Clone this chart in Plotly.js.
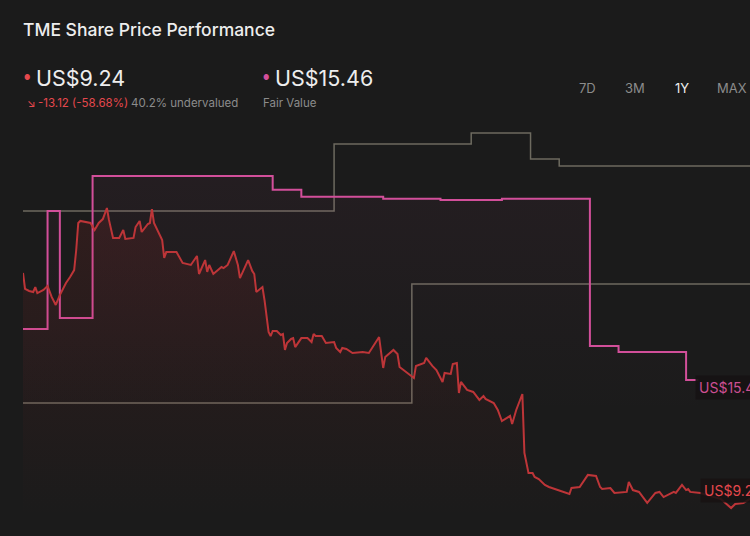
<!DOCTYPE html>
<html>
<head>
<meta charset="utf-8">
<script src="https://cdn.plot.ly/plotly-3.0.1.min.js"></script>
<style>
  html, body { margin: 0; padding: 0; background: #1b1b1b; overflow: hidden; width: 750px; height: 536px; }
  #chart { width: 820px; height: 536px; }
</style>
</head>
<body>
<div id="chart"></div>
<script>
// ---- Data (day index within the 1Y window, values in US$) ----
const priceDays = [0,1,3,5,6,7,10,12,14,16,18,21,23,25,26,27,28,30,33,35,37,39,41,42,44,47,49,50,54,55,57,58,61,62,63,64,68,69,70,75,78,82,85,86,89,90,91,93,97,98,100,103,105,106,110,112,113,114,117,118,120,121,122,124,126,127,128,129,131,132,133,136,139,141,142,143,146,148,152,153,155,156,158,161,166,169,174,176,177,181,183,184,189,191,192,196,197,200,202,205,206,209,210,212,213,214,217,220,223,225,226,230,232,234,238,239,241,244,245,247,249,250,252,255,257,261,267,268,272,276,280,282,283,287,289,295,296,298,301,305,309,311,313,318,319,322,324,325,326,331,341,346,348,352,355,364];
const priceValues = [22.36,21.42,21.30,21.24,21.53,21.18,21.36,21.59,20.95,20.48,21.06,21.77,22.12,22.53,23.71,25.30,25.42,25.36,25.30,24.89,25.30,25.53,26.18,25.48,24.42,24.42,24.89,24.36,24.42,25.06,25.42,24.77,25.24,25.30,26.12,25.30,24.30,23.24,23.59,23.59,22.95,22.83,23.36,22.30,23.12,22.42,22.83,22.30,22.71,22.65,22.83,23.65,22.83,22.06,23.12,22.48,22.30,21.24,21.53,20.77,18.89,18.65,18.95,18.95,18.71,18.77,17.83,18.24,18.48,18.53,18.00,18.53,18.53,18.30,18.77,18.65,18.65,18.24,18.30,17.95,17.71,17.95,17.89,17.65,17.71,17.65,18.59,16.77,17.42,17.83,17.59,16.83,16.36,16.18,16.89,17.06,17.36,16.89,16.65,15.95,16.48,16.42,17.00,17.06,15.30,15.95,15.48,15.36,14.89,15.12,14.95,14.71,14.30,13.65,13.95,13.48,14.30,15.24,11.77,10.59,10.59,10.36,10.24,9.89,9.77,9.59,9.36,9.71,9.77,10.48,10.42,9.77,9.65,9.71,9.42,9.48,10.06,9.59,9.48,8.83,9.42,9.48,9.18,9.48,9.42,9.89,9.59,9.65,9.48,9.42,9.06,8.53,8.77,8.83,9.06,9.24];

const fairDays = [0,12,18,34,122,136,176,204,234,277,291,324,330];
const fairValues = [19.06,26.00,19.71,28.06,27.26,26.85,26.73,26.65,26.73,18.06,17.71,16.06,16.06];

const targetHighDays = [0,152,219,248,262,365];
const targetHighValues = [26.00,29.95,30.59,29.06,28.65,28.65];
const targetLowDays = [0,190,365];
const targetLowValues = [14.71,21.71,21.71];

const ticker = "TME";
const lastPrice = "US$9.24";
const change = "-13.12 (-58.68%)";
const valuation = "40.2% undervalued";
const fairValue = "US$15.46";
const rangeButtons = ["7D", "3M", "1Y", "MAX"];

// ---- Layout helpers (pixel -> paper) ----
const ML = 23, MR = 50, MT = 110, MB = 0, W = 820, H = 536;
const PW = W - ML - MR, PH = H - MT - MB;
const px = v => (v - ML) / PW;
const py = v => (H - MB - v) / PH;

const RED = '#e5484d', PINK = '#d24f9a', GREY = '#8c8c8c', WHITE = '#ededed';
const FONT = 'Inter, Roboto, "Noto Sans", sans-serif';

const traces = [
  {
    x: targetHighDays, y: targetHighValues, type: 'scatter', mode: 'lines',
    line: { color: '#6d6a5f', width: 1.5, shape: 'hv' }, hoverinfo: 'skip'
  },
  {
    x: targetLowDays, y: targetLowValues, type: 'scatter', mode: 'lines',
    line: { color: '#6d6a5f', width: 1.5, shape: 'hv' }, hoverinfo: 'skip'
  },
  {
    x: fairDays, y: fairValues, type: 'scatter', mode: 'lines',
    line: { color: PINK, width: 2, shape: 'hv' },
    fill: 'tozeroy',
    fillgradient: { type: 'vertical', start: 14, stop: 28,
      colorscale: [[0, 'rgba(210,80,150,0)'], [1, 'rgba(210,80,150,0.05)']] },
    hoverinfo: 'skip'
  },
  {
    x: priceDays, y: priceValues, type: 'scatter', mode: 'lines',
    line: { color: '#bd3538', width: 2 },
    fill: 'tozeroy',
    fillgradient: { type: 'vertical', start: 8, stop: 26,
      colorscale: [[0, 'rgba(180,40,40,0)'], [1, 'rgba(180,40,40,0.14)']] },
    hoverinfo: 'skip'
  }
];

function ann(text, x, y, size, color, anchor, weight) {
  return { text: text, xref: 'paper', yref: 'paper', x: px(x), y: py(y),
    xanchor: anchor || 'left', yanchor: 'middle', showarrow: false,
    font: { family: FONT, size: size, color: color, weight: weight || 400 } };
}

const annotations = [
  ann(ticker + ' Share Price Performance', 21, 29, 17.5, WHITE, 'left', 500),
  ann('●', 27, 77, 7, RED, 'center'),
  ann(lastPrice, 34, 78, 21.5, WHITE),
  ann('↘', 25, 103, 11, RED),
  ann(change, 36, 103, 11.5, RED),
  ann(valuation, 129, 103, 11.5, GREY),
  ann('●', 266, 77, 7, PINK, 'center'),
  ann(fairValue, 273, 78, 21.5, WHITE),
  ann('Fair Value', 261, 103, 11.5, GREY),
  ann(rangeButtons[0], 587.5, 88, 13, GREY, 'center'),
  ann(rangeButtons[1], 635, 88, 13, GREY, 'center'),
  ann(rangeButtons[2], 681.5, 88, 13, WHITE, 'center'),
  ann(rangeButtons[3], 715, 88, 13, GREY),
  { text: fairValue, x: 328.3, y: 15.46, xref: 'x', yref: 'y', xanchor: 'left', yanchor: 'middle',
    yshift: 3, showarrow: false, bgcolor: 'rgba(22,18,20,0.92)', borderpad: 3,
    font: { family: FONT, size: 14, color: '#cc4f92' } },
  { text: lastPrice, x: 330.8, y: 9.24, xref: 'x', yref: 'y', xanchor: 'left', yanchor: 'middle',
    yshift: 6, showarrow: false, bgcolor: 'rgba(24,18,18,0.88)', borderpad: 3,
    font: { family: FONT, size: 14, color: RED } }
];

const layout = {
  width: W, height: H,
  margin: { l: ML, r: MR, t: MT, b: MB, pad: 0 },
  paper_bgcolor: '#1b1b1b', plot_bgcolor: '#1b1b1b',
  showlegend: false,
  xaxis: { range: [0, 365], visible: false, fixedrange: true },
  yaxis: { range: [(653.08 - 536) / 17, (653.08 - 110) / 17], visible: false, fixedrange: true },
  annotations: annotations
};

Plotly.newPlot('chart', traces, layout, { displayModeBar: false, staticPlot: true });
</script>
</body>
</html>
